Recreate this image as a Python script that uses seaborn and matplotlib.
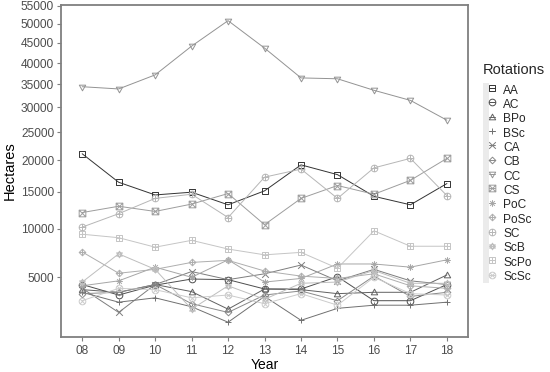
import numpy as np
import pandas as pd
import matplotlib
matplotlib.use("Agg")
import matplotlib.pyplot as plt
from matplotlib.path import Path
from matplotlib.lines import Line2D
from matplotlib.patches import Rectangle
from matplotlib.legend_handler import HandlerTuple
from matplotlib.ticker import FuncFormatter
import seaborn as sns

# ---- data (hectares per rotation) ----
years = ["08", "09", "10", "11", "12", "13", "14", "15", "16", "17", "18"]
rotations = ["AA", "AC", "BPo", "BSc", "CA", "CB", "CC", "CS",
             "PoC", "PoSc", "SC", "ScB", "ScPo", "ScSc"]

AA = [21100, 16400, 14500, 14900, 13100, 15100, 19200, 17600, 14300, 13100, 16200]
AC = [4400, 3600, 4350, 4850, 4800, 4050, 4050, 5050, 3200, 3200, 4400]
BPo = [4000, 3800, 4400, 3850, 2650, 4050, 4000, 3700, 3800, 3800, 5200]
BSc = [3800, 3100, 3400, 2800, 1900, 3500, 2000, 2700, 2900, 2900, 3100]
CA = [4100, 2450, 4400, 5500, 4800, 5300, 6100, 4700, 5700, 4700, 4400]
CB = [3700, 3800, 4400, 3000, 2450, 3600, 3900, 3200, 5100, 3500, 3800]
CC = [34500, 34000, 37200, 44200, 50900, 43700, 36500, 36300, 33700, 31500, 27400]
CS = [12050, 12900, 12200, 13200, 14700, 10500, 14000, 15900, 14600, 16700, 20300]
PoC = [4300, 4700, 5900, 5000, 6600, 4600, 4900, 6200, 6200, 5900, 6600]
PoSc = [7400, 5350, 5700, 6350, 6550, 5550, 5100, 4900, 5300, 4300, 4100]
SC = [10200, 11900, 14000, 14600, 11400, 17200, 18500, 14000, 18700, 20300, 14400]
ScB = [4600, 7200, 5700, 2650, 4300, 3300, 4500, 4600, 5600, 4500, 4500]
ScPo = [9350, 8950, 7900, 8650, 7700, 7100, 7350, 5800, 9750, 8000, 8000]
ScSc = [3200, 4100, 4000, 3400, 3600, 3000, 3700, 2900, 5000, 3700, 3600]

series = [AA, AC, BPo, BSc, CA, CB, CC, CS, PoC, PoSc, SC, ScB, ScPo, ScSc]

df = pd.DataFrame({
    "Year": years * len(rotations),
    "Hectares": np.concatenate(series),
    "Rotations": np.repeat(rotations, len(years)),
})


# ---- ggplot-like open shapes 0..13 ----
def segs(*pairs):
    verts, codes = [], []
    for a, b in pairs:
        verts += [a, b]
        codes += [Path.MOVETO, Path.LINETO]
    return Path(verts, codes)


def poly(pts):
    return Path(pts + [pts[0]],
                [Path.MOVETO] + [Path.LINETO] * (len(pts) - 1) + [Path.CLOSEPOLY])


c = 0.707
square = poly([(-1, -1), (1, -1), (1, 1), (-1, 1)])
circle = Path.circle((0, 0), 1)
tri_up = poly([(0, 1), (0.95, -0.7), (-0.95, -0.7)])
tri_dn = poly([(0, -1), (0.95, 0.7), (-0.95, 0.7)])
diamond = poly([(0, 1), (1, 0), (0, -1), (-1, 0)])
plus = segs(((-1, 0), (1, 0)), ((0, -1), (0, 1)))
cross = segs(((-c, -c), (c, c)), ((-c, c), (c, -c)))
cross_full = segs(((-1, -1), (1, 1)), ((-1, 1), (1, -1)))
star = Path.make_compound_path(
    poly([(0, 1), (0.866, -0.5), (-0.866, -0.5)]),
    poly([(0, -1), (0.866, 0.5), (-0.866, 0.5)]))

shapes = [
    square, circle, tri_up, plus, cross_full, diamond, tri_dn,
    Path.make_compound_path(square, cross_full),
    Path.make_compound_path(plus, cross),
    Path.make_compound_path(diamond, plus),
    Path.make_compound_path(circle, plus),
    star,
    Path.make_compound_path(square, plus),
    Path.make_compound_path(circle, cross),
]
marker_map = dict(zip(rotations, shapes))


def grey_levels(n, start=0.2, end=0.8, gamma=2.2):
    vals = np.linspace(start ** gamma, end ** gamma, n) ** (1 / gamma)
    return [(v, v, v) for v in vals]


palette = dict(zip(rotations, grey_levels(len(rotations))))

# ---- plot ----
sns.set_style("white")
plt.rcParams["font.family"] = ["Liberation Sans", "DejaVu Sans"]

fig = plt.figure(figsize=(5.5, 3.72), dpi=100)
ax = fig.add_axes([0.111, 0.094, 0.740, 0.893])

msize = 4.8
sns.lineplot(data=df, x="Year", y="Hectares", hue="Rotations", style="Rotations",
             hue_order=rotations, style_order=rotations, palette=palette,
             markers=marker_map, dashes=False, sort=False, legend=False,
             linewidth=0.7, markersize=msize, ax=ax)

for line in ax.lines:
    line.set_markeredgecolor(line.get_color())
    line.set_markerfacecolor("none")
    line.set_markeredgewidth(0.7)

ax.set_yscale("function", functions=(lambda v: np.sqrt(np.clip(v, 0, None)),
                                      lambda v: np.square(v)))
ax.set_ylim(1200, 55300)
ax.set_xlim(-0.58, 10.58)
ax.set_yticks(range(5000, 55001, 5000))
ax.yaxis.set_major_formatter(FuncFormatter(lambda v, p: f"{int(v)}"))
ax.minorticks_off()

for side in ax.spines.values():
    side.set_visible(True)
    side.set_color("#7f7f7f")
    side.set_linewidth(1.3)

ax.tick_params(axis="both", which="major", length=3, width=0.8, color="#7f7f7f",
               labelsize=8.6, labelcolor="#4d4d4d", direction="out",
               left=True, bottom=True, pad=2)
ax.tick_params(axis="x", pad=2.5)
ax.set_ylabel("Hectares", fontsize=10.5, color="black", labelpad=3)
ax.set_xlabel("Year", fontsize=10, color="black")
ax.xaxis.set_label_coords(0.5, -0.085)
ax.xaxis.label.set_va("center")

# legend with grey key backgrounds
handles = []
for r in rotations:
    bg = Rectangle((0, 0), 1, 1, facecolor="#ebebeb", edgecolor="none")
    ln = Line2D([], [], color=palette[r], lw=0.7, marker=marker_map[r],
                markersize=msize, markerfacecolor="none",
                markeredgecolor=palette[r], markeredgewidth=0.7)
    handles.append((bg, ln))

leg = fig.legend(handles, rotations, title="Rotations", loc="upper left",
                 bbox_to_anchor=(483 / 550, 1 - 63 / 372), frameon=False,
                 fontsize=8.6, title_fontsize=10.5, handlelength=1.0,
                 handleheight=1.47, labelspacing=0.0, handletextpad=0.7,
                 borderpad=0, borderaxespad=0, alignment="left",
                 handler_map={tuple: HandlerTuple(ndivide=None, pad=0)})
leg._legend_box.sep = 4

fig.savefig("out.png", dpi=100)
